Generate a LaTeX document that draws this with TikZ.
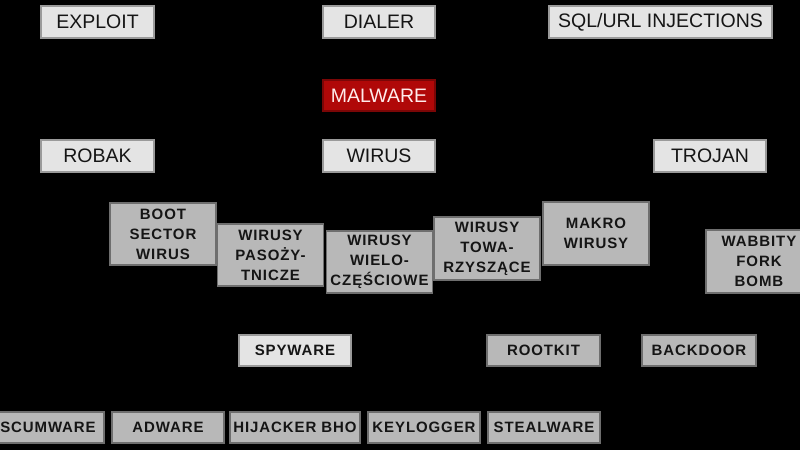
\documentclass[tikz,border=0pt]{standalone}
\usepackage{fontspec}
\setmainfont{Liberation Sans}
\newfontfamily\lowfont[LetterSpace=6]{Liberation Sans}
\usepackage{xcolor}
\usepackage{tikz}
\usetikzlibrary{positioning}

\definecolor{boxlight}{HTML}{E4E4E4}
\definecolor{edgelight}{HTML}{9A9A9A}
\definecolor{boxdark}{HTML}{B8B8B8}
\definecolor{edgedark}{HTML}{6E6E6E}
\definecolor{malred}{HTML}{B00808}
\definecolor{inkdark}{HTML}{151515}

\begin{document}
\begin{tikzpicture}[x=1pt, y=-1pt,
    topbox/.style={draw=edgelight, fill=boxlight, line width=1.2pt, inner sep=0pt,
        text=inkdark, minimum height=32pt, font=\fontsize{19.5}{21}\selectfont},
    redbox/.style={topbox, draw=malred!70!black, fill=malred, text=white!92!red},
    subbox/.style={draw=edgedark, fill=boxdark, line width=1.2pt, inner sep=0pt,
        text=inkdark, align=center, minimum width=106pt, minimum height=62pt,
        font=\lowfont\bfseries\fontsize{15}{20}\selectfont},
    lowbox/.style={subbox, minimum height=31pt},
    spybox/.style={lowbox, draw=edgelight, fill=boxlight}]

    % =================================================================
    % 1. TŁO (CZARNY PROSTOKĄT)
    % =================================================================
    \fill[black] (0,0) rectangle (800,450);
    \useasboundingbox (0,0) rectangle (800,450);

    % =================================================================
    % 2. GÓRNE RZĘDY: EXPLOIT, DIALER, SQL, MALWARE
    % =================================================================
    \node[topbox, minimum width=113pt] (exploit) at (97.5,22) {EXPLOIT};
    \node[topbox, minimum width=112pt] (dialer) at (379,22) {DIALER};
    \node[topbox, minimum width=223pt] (sqlurl) at (660.5,22) {SQL/URL INJECTIONS};

    \node[redbox, minimum width=112pt, minimum height=31pt] (malware) at (379,95.5) {MALWARE};

    % Robak, wirus, trojan
    \node[topbox, minimum width=113pt] (robak) at (97.5,156) {ROBAK};
    \node[topbox, minimum width=112pt] (wirus) at (379,156) {WIRUS};
    \node[topbox, minimum width=112pt] (trojan) at (710,156) {TROJAN};

    % =================================================================
    % 3. RODZAJE WIRUSÓW
    % =================================================================
    \node[subbox] (boot) at (163,234) {BOOT\\SECTOR\\WIRUS};
    \node[subbox] (pasoz) at (270.5,255) {WIRUSY\\PASOŻY-\\TNICZE};
    \node[subbox] (wielo) at (379.5,262) {WIRUSY\\WIELO-\\CZĘŚCIOWE};
    \node[subbox, minimum height=63pt] (towa) at (487,248.5) {WIRUSY\\TOWA-\\RZYSZĄCE};
    \node[subbox, minimum height=63pt] (makro) at (596,233.5) {MAKRO\\WIRUSY};
    \node[subbox, minimum height=63pt] (wabbit) at (759,261.5) {WABBITY\\FORK\\BOMB};

    % =================================================================
    % 4. SPYWARE, ROOTKIT, BACKDOOR
    % =================================================================
    \node[spybox, minimum width=112pt] (spyware) at (295,350.5) {SPYWARE};
    \node[lowbox, minimum width=113pt] (rootkit) at (543.5,350.5) {ROOTKIT};
    \node[lowbox, minimum width=114pt] (backdoor) at (699,350.5) {BACKDOOR};

    % =================================================================
    % 5. DOLNY RZĄD: RODZAJE SPYWARE
    % =================================================================
    \node[lowbox, minimum width=112pt] (scumware) at (48,427.5) {SCUMWARE};
    \node[lowbox, minimum width=112pt] (adware) at (168,427.5) {ADWARE};
    \node[lowbox, minimum width=130pt] (hijacker) at (295,427.5) {HIJACKER BHO};
    \node[lowbox, minimum width=112pt] (keylogger) at (424,427.5) {KEYLOGGER};
    \node[lowbox, minimum width=112pt] (stealware) at (544,427.5) {STEALWARE};

\end{tikzpicture}
\end{document}
